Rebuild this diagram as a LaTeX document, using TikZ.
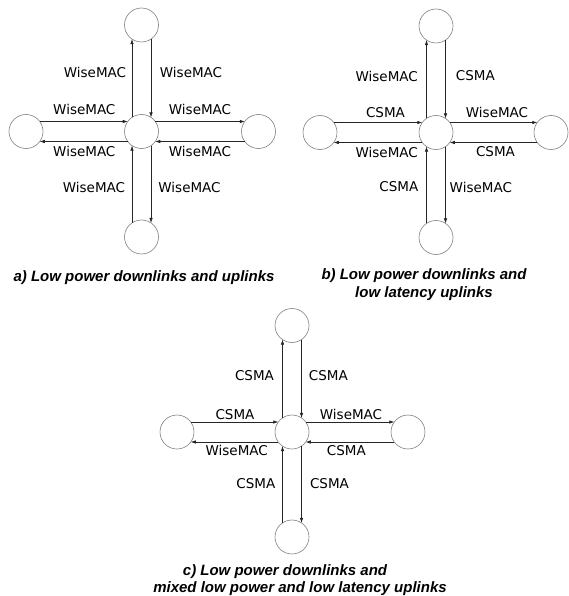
\documentclass[tikz,border=0pt]{standalone}
\usepackage{fontspec}
\setmainfont{DejaVu Sans}
\newfontfamily\capfont{Liberation Sans}
\usetikzlibrary{arrows.meta}
\begin{document}
\begin{tikzpicture}[x=1pt,y=-1pt,
  nd/.style={circle,draw=black!50,line width=0.6pt,minimum size=34pt,inner sep=0pt,outer sep=0pt},
  lnk/.style={draw=black!85,line width=0.6pt,-{Latex[length=5pt,width=3.5pt]}},
  lbl/.style={font=\fontsize{13.5}{16}\selectfont,inner sep=0pt},
  captext/.style={font=\capfont\bfseries\itshape\fontsize{15}{18}\selectfont,inner sep=0pt,anchor=base}]
\useasboundingbox (0,0) rectangle (568,596);
% ---------- a ----------
\node[nd] (aC) at (141.5,131.5) {};
\node[nd] (aT) at (141.5,25) {};
\node[nd] (aL) at (26,131.5) {};
\node[nd] (aR) at (258.5,131.5) {};
\node[nd] (aB) at (141.5,237) {};
\draw[lnk] (aC.124) -- (aT.236);
\draw[lnk] (aT.304) -- (aC.56);
\draw[lnk] (aL.36) -- (aC.144);
\draw[lnk] (aC.36) -- (aR.144);
\draw[lnk] (aC.216) -- (aL.324);
\draw[lnk] (aR.216) -- (aC.324);
\draw[lnk] (aB.124) -- (aC.236);
\draw[lnk] (aC.304) -- (aB.56);
\node[lbl] (aL1) at (95,72) {WiseMAC};
\node[lbl] (aL2) at (191,72) {WiseMAC};
\node[lbl] (aL3) at (84.3,109.3) {WiseMAC};
\node[lbl] (aL4) at (200,109.3) {WiseMAC};
\node[lbl] (aL5) at (84.3,151) {WiseMAC};
\node[lbl] (aL6) at (200,151) {WiseMAC};
\node[lbl] (aL7) at (94,187) {WiseMAC};
\node[lbl] (aL8) at (189.5,187) {WiseMAC};
\node[captext] (acap) at (144,281) {a) Low power downlinks and uplinks};
% ---------- b ----------
\node[nd] (bC) at (436,132.5) {};
\node[nd] (bT) at (436,26) {};
\node[nd] (bL) at (320,132.5) {};
\node[nd] (bR) at (551,132.5) {};
\node[nd] (bB) at (436,237.5) {};
\draw[lnk] (bC.124) -- (bT.236);
\draw[lnk] (bT.304) -- (bC.56);
\draw[lnk] (bL.36) -- (bC.144);
\draw[lnk] (bC.36) -- (bR.144);
\draw[lnk] (bC.216) -- (bL.324);
\draw[lnk] (bR.216) -- (bC.324);
\draw[lnk] (bB.124) -- (bC.236);
\draw[lnk] (bC.304) -- (bB.56);
\node[lbl] (bL1) at (386.7,76) {WiseMAC};
\node[lbl] (bL2) at (475.3,76) {CSMA};
\node[lbl] (bL3) at (385.5,112.3) {CSMA};
\node[lbl] (bL4) at (497,112.3) {WiseMAC};
\node[lbl] (bL5) at (386.7,152) {WiseMAC};
\node[lbl] (bL6) at (495.5,152) {CSMA};
\node[lbl] (bL7) at (398.8,187) {CSMA};
\node[lbl] (bL8) at (480.8,187) {WiseMAC};
\node[captext] (bcap1) at (424,279) {b) Low power downlinks and};
\node[captext] (bcap2) at (424,297) {low latency uplinks};
% ---------- c ----------
\node[nd] (cC) at (292,432) {};
\node[nd] (cT) at (292,325.5) {};
\node[nd] (cL) at (177,432) {};
\node[nd] (cR) at (408,432) {};
\node[nd] (cB) at (292,537) {};
\draw[lnk] (cC.124) -- (cT.236);
\draw[lnk] (cT.304) -- (cC.56);
\draw[lnk] (cL.36) -- (cC.144);
\draw[lnk] (cC.36) -- (cR.144);
\draw[lnk] (cC.216) -- (cL.324);
\draw[lnk] (cR.216) -- (cC.324);
\draw[lnk] (cB.124) -- (cC.236);
\draw[lnk] (cC.304) -- (cB.56);
\node[lbl] (cL1) at (254.5,375.3) {CSMA};
\node[lbl] (cL2) at (328.3,375.3) {CSMA};
\node[lbl] (cL3) at (235,414.3) {CSMA};
\node[lbl] (cL4) at (351,414.3) {WiseMAC};
\node[lbl] (cL5) at (236.7,450.7) {WiseMAC};
\node[lbl] (cL6) at (346.3,450.7) {CSMA};
\node[lbl] (cL7) at (255.8,483.8) {CSMA};
\node[lbl] (cL8) at (329.5,483.8) {CSMA};
\node[captext] (ccap1) at (285,575) {c) Low power downlinks and};
\node[captext] (ccap2) at (300,592) {mixed low power and low latency uplinks};
\end{tikzpicture}
\end{document}
